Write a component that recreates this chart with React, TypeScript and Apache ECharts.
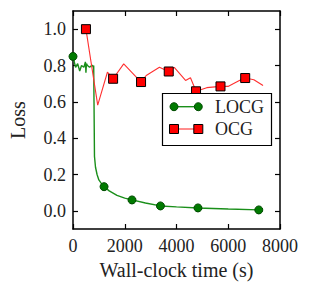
import React, { useEffect, useRef } from "react";
import * as echarts from "echarts";

const xTicks = [0, 2000, 4000, 6000, 8000];
const yTicks = [0, 0.2, 0.4, 0.6, 0.8, 1.0];

// LOCG series (green)
const locgX = [0, 100, 180, 260, 330, 420, 480, 500, 520, 560, 640, 720, 760, 780, 800, 812, 830, 870, 930, 1000, 1100, 1200, 1400, 1700, 2000, 2280, 2800, 3380, 4000, 4830, 6000, 7180];
const locgY = [0.85, 0.79, 0.81, 0.77, 0.8, 0.79, 0.82, 0.76, 0.81, 0.8, 0.79, 0.8, 0.8, 0.79, 0.8, 0.6, 0.3, 0.24, 0.2, 0.17, 0.15, 0.133, 0.11, 0.085, 0.07, 0.06, 0.043, 0.027, 0.022, 0.016, 0.01, 0.005];
const locgMark = [1, 0, 0, 0, 0, 0, 0, 0, 0, 0, 0, 0, 0, 0, 0, 0, 0, 0, 0, 0, 0, 1, 0, 0, 0, 1, 0, 1, 0, 1, 0, 1];

// OCG series (red)
const ocgX = [500, 955, 1330, 1550, 1960, 2630, 2830, 3340, 3700, 3913, 4350, 4540, 4755, 5170, 5700, 5990, 6430, 6655, 6990, 7345];
const ocgY = [1.0, 0.582, 0.763, 0.727, 0.809, 0.709, 0.745, 0.79, 0.767, 0.79, 0.718, 0.733, 0.658, 0.678, 0.685, 0.685, 0.718, 0.731, 0.722, 0.69];
const ocgMark = [1, 0, 0, 1, 0, 1, 0, 0, 1, 0, 0, 0, 1, 0, 1, 0, 0, 1, 0, 0];

const FONT = "'Liberation Serif', serif";

export default function App() {
  const ref = useRef<HTMLDivElement>(null);
  useEffect(() => {
    document.body.style.margin = "0";
    const chart = echarts.init(ref.current!, null, { renderer: "svg" });
    const locgData = locgX.map((x, i) => ({
      value: [x, locgY[i]],
      symbol: locgMark[i] ? "circle" : "none",
    }));
    const ocgData = ocgX.map((x, i) => ({
      value: [x, ocgY[i]],
      symbol: ocgMark[i] ? "rect" : "none",
    }));
    const axisLine = { show: true, onZero: false, lineStyle: { color: "#000", width: 1.5 } };
    const tick = { show: true, inside: true, length: 5, lineStyle: { color: "#000", width: 1.2 } };
    const label = { fontFamily: FONT, fontSize: 18, color: "#222" };
    chart.setOption({
      animation: false,
      textStyle: { fontFamily: FONT },
      grid: { left: 68, right: 32, top: 11, bottom: 62, containLabel: false },
      xAxis: [
        {
          type: "value",
          min: 0,
          max: 8000,
          interval: 2000,
          axisLine,
          axisTick: tick,
          splitLine: { show: false },
          axisLabel: { ...label, margin: 8, customValues: xTicks, formatter: (v: number) => String(v) },
          name: "Wall-clock time (s)",
          nameLocation: "middle",
          nameGap: 27,
          nameTextStyle: { fontFamily: FONT, fontSize: 20, color: "#222" },
        },
        {
          type: "value",
          position: "top",
          min: 0,
          max: 8000,
          interval: 2000,
          axisLine,
          axisTick: tick,
          splitLine: { show: false },
          axisLabel: { show: false },
        },
      ],
      yAxis: [
        {
          type: "value",
          min: -0.1,
          max: 1.1,
          axisLine,
          axisTick: { ...tick, customValues: yTicks },
          splitLine: { show: false },
          axisLabel: {
            ...label,
            margin: 7,
            customValues: yTicks,
            formatter: (v: number) => v.toFixed(1),
          },
          name: "Loss",
          nameLocation: "middle",
          nameGap: 45,
          nameTextStyle: { fontFamily: FONT, fontSize: 20, color: "#222" },
        },
        {
          type: "value",
          position: "right",
          min: -0.1,
          max: 1.1,
          axisLine,
          axisTick: { ...tick, customValues: yTicks },
          splitLine: { show: false },
          axisLabel: { show: false },
        },
      ],
      series: [
        {
          name: "LOCG",
          type: "line",
          data: locgData,
          symbolSize: 8,
          showAllSymbol: true,
          lineStyle: { color: "#1a8f1a", width: 1.4 },
          itemStyle: { color: "#007a00", borderColor: "#004a00", borderWidth: 1 },
          clip: true,
        },
        {
          name: "OCG",
          type: "line",
          data: ocgData,
          symbolSize: 9,
          showAllSymbol: true,
          lineStyle: { color: "#ff3030", width: 1.1 },
          itemStyle: { color: "#ff0000", borderColor: "#000", borderWidth: 1 },
          clip: true,
        },
      ],
      graphic: [
        {
          type: "group",
          z: 100,
          children: [
            {
              type: "rect",
              shape: { x: 162.5, y: 93.5, width: 109, height: 52 },
              style: { fill: "#fff", stroke: "#000", lineWidth: 1.2 },
              z: 100,
            },
            {
              type: "line",
              shape: { x1: 174, y1: 106.7, x2: 198.3, y2: 106.7 },
              style: { stroke: "#1a8f1a", lineWidth: 1.4 },
              z: 101,
            },
            { type: "circle", shape: { cx: 174, cy: 106.7, r: 4 }, style: { fill: "#007a00", stroke: "#004a00", lineWidth: 1 }, z: 102 },
            { type: "circle", shape: { cx: 198.3, cy: 106.7, r: 4 }, style: { fill: "#007a00", stroke: "#004a00", lineWidth: 1 }, z: 102 },
            {
              type: "text",
              x: 215,
              y: 106.7,
              style: { text: "LOCG", fontFamily: FONT, fontSize: 18, fill: "#222", verticalAlign: "middle", align: "left" },
              z: 102,
            },
            {
              type: "line",
              shape: { x1: 174, y1: 129, x2: 198.3, y2: 129 },
              style: { stroke: "#ff3030", lineWidth: 1.1 },
              z: 101,
            },
            { type: "rect", shape: { x: 169.5, y: 124.5, width: 9, height: 9 }, style: { fill: "#ff0000", stroke: "#000", lineWidth: 1 }, z: 102 },
            { type: "rect", shape: { x: 193.8, y: 124.5, width: 9, height: 9 }, style: { fill: "#ff0000", stroke: "#000", lineWidth: 1 }, z: 102 },
            {
              type: "text",
              x: 215,
              y: 129,
              style: { text: "OCG", fontFamily: FONT, fontSize: 18, fill: "#222", verticalAlign: "middle", align: "left" },
              z: 102,
            },
          ],
        },
      ],
    });
    return () => chart.dispose();
  }, []);
  return <div ref={ref} style={{ width: 312, height: 291 }} />;
}
